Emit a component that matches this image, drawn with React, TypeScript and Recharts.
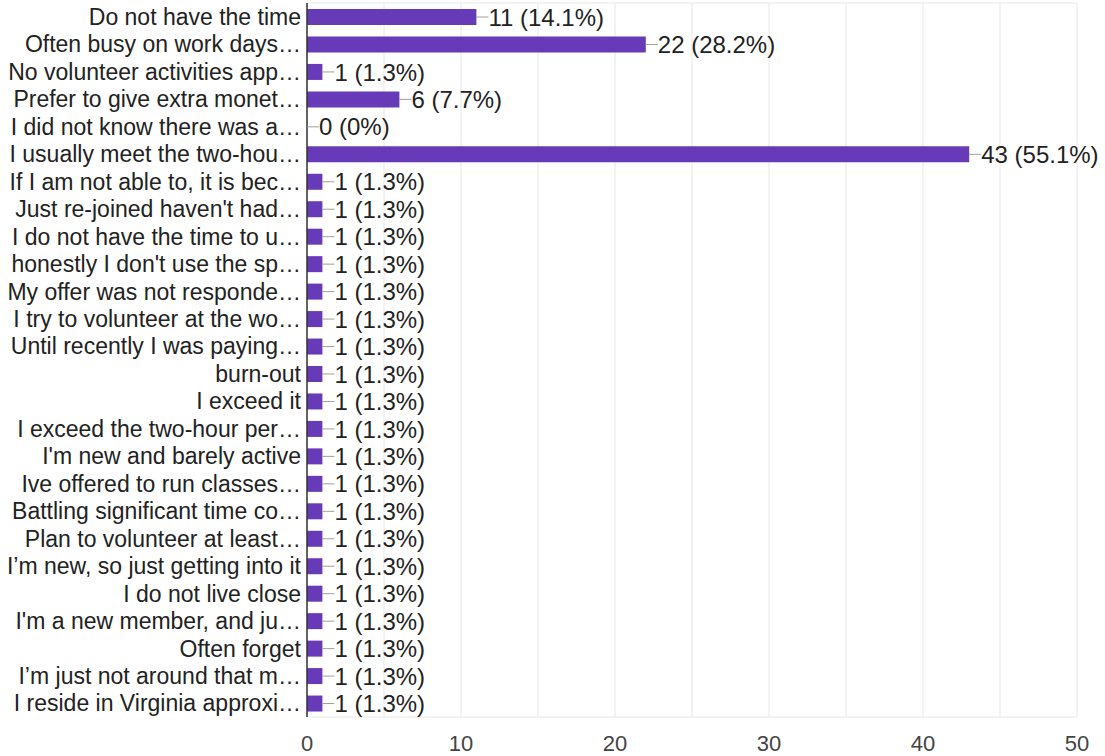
import React from 'react';
import { BarChart, Bar, XAxis, YAxis, CartesianGrid, LabelList } from 'recharts';

const categories = [
  'Do not have the time',
  'Often busy on work days…',
  'No volunteer activities app…',
  'Prefer to give extra monet…',
  'I did not know there was a…',
  'I usually meet the two-hou…',
  'If I am not able to, it is bec…',
  "Just re-joined haven't had…",
  'I do not have the time to u…',
  "honestly I don't use the sp…",
  'My offer was not responde…',
  'I try to volunteer at the wo…',
  'Until recently I was paying…',
  'burn-out',
  'I exceed it',
  'I exceed the two-hour per…',
  "I'm new and barely active",
  'Ive offered to run classes…',
  'Battling significant time co…',
  'Plan to volunteer at least…',
  'I’m new, so just getting into it',
  'I do not live close',
  "I'm a new member, and ju…",
  'Often forget',
  'I’m just not around that m…',
  'I reside in Virginia approxi…',
];
const counts = [11, 22, 1, 6, 0, 43, 1, 1, 1, 1, 1, 1, 1, 1, 1, 1, 1, 1, 1, 1, 1, 1, 1, 1, 1, 1];
const percents = ['14.1%', '28.2%', '1.3%', '7.7%', '0%', '55.1%', '1.3%', '1.3%', '1.3%', '1.3%', '1.3%', '1.3%', '1.3%', '1.3%', '1.3%', '1.3%', '1.3%', '1.3%', '1.3%', '1.3%', '1.3%', '1.3%', '1.3%', '1.3%', '1.3%', '1.3%'];
const xTicks = [0, 10, 20, 30, 40, 50];
const gridTicks = [0, 5, 10, 15, 20, 25, 30, 35, 40, 45, 50];
const xMax = 50;

const data = categories.map((c, i) => ({ name: c, value: counts[i], label: `${counts[i]} (${percents[i]})` }));

const FONT = '"Liberation Sans", Arial, sans-serif';

const ValueLabel = (props: any) => {
  const { x, y, width, height, value } = props;
  const x0 = x + Math.max(0, width);
  const cy = y + height / 2;
  return (
    <g>
      <line x1={x0} y1={cy} x2={x0 + 12} y2={cy} stroke="#9e9e9e" strokeWidth={1} />
      <text x={x0 + 12} y={cy} dy="0.36em" fontSize={24} fontFamily={FONT} fill="#222">
        {value}
      </text>
    </g>
  );
};

export default function App() {
  return (
    <div style={{ position: 'absolute', left: 0, top: 0, background: '#fff' }}>
      <BarChart
        width={1105}
        height={756}
        data={data}
        layout="vertical"
        margin={{ top: 3, right: 28, left: 0, bottom: 0 }}
      >
        <CartesianGrid
          stroke="#e6e6e6"
          verticalCoordinatesGenerator={(p: any) => {
            const sc = p.xAxis && p.xAxis.scale;
            if (sc && typeof sc === 'function') return gridTicks.map((t) => sc(t));
            if (sc && typeof sc.map === 'function') return gridTicks.map((t) => sc.map(t));
            return gridTicks.map((t) => p.offset.left + (t / xMax) * p.offset.width);
          }}
          horizontalCoordinatesGenerator={(p: any) => [p.offset.top, p.offset.top + p.offset.height]}
        />
        <XAxis
          type="number"
          domain={[0, xMax]}
          ticks={xTicks}
          axisLine={false}
          tickLine={false}
          height={39}
          tick={{ fontSize: 22, fontFamily: FONT, fill: '#444' }}
          tickMargin={12}
        />
        <YAxis
          type="category"
          dataKey="name"
          width={307}
          interval={0}
          axisLine={{ stroke: '#333', strokeWidth: 1.5 }}
          tickLine={false}
          tick={{ fontSize: 23, fontFamily: FONT, fill: '#222' }}
          tickMargin={0}
        />
        <Bar dataKey="value" fill="#673AB7" barSize={16} minPointSize={0.01} isAnimationActive={false}>
          <LabelList dataKey="label" content={<ValueLabel />} />
        </Bar>
      </BarChart>
    </div>
  );
}
